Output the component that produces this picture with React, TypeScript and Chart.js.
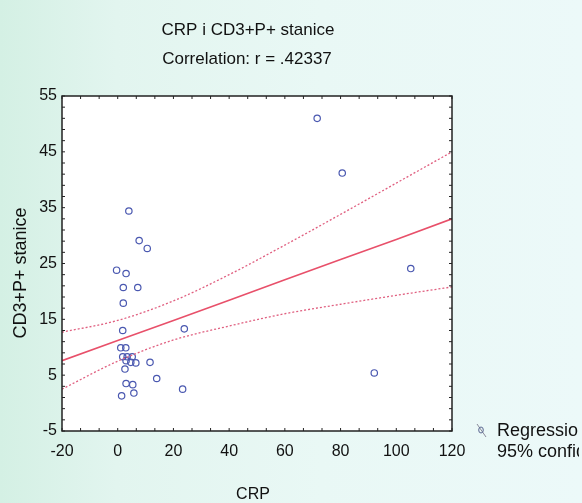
import React, { useEffect, useRef } from "react";
import { Chart, registerables } from "chart.js";

Chart.register(...registerables);

// ---- data ----
const crp = [4.0, 7.7, 10.6, -0.4, 3.0, 2.0, 7.2, 2.0, 1.8, 23.9, 1.1, 2.9, 1.8, 3.4, 5.2, 3.0, 4.7, 6.5, 2.6, 11.6, 14.0, 3.0, 5.4, 5.8, 1.4, 23.3, 71.6, 80.6, 105.2, 92.1];
const cd3 = [34.4, 29.1, 27.7, 23.8, 23.2, 20.7, 20.7, 17.9, 13.0, 13.3, 9.9, 9.9, 8.3, 8.3, 8.3, 7.6, 7.3, 7.2, 6.1, 7.3, 4.4, 3.5, 3.3, 1.8, 1.3, 2.5, 51.0, 41.2, 24.1, 5.4];

const fitX = [-20, 0, 20, 40, 60, 80, 100, 120];
const fitY = [7.6, 11.2, 14.8, 18.4, 22.1, 25.7, 29.3, 33.0];
const ciUpper = [12.7, 14.8, 18.3, 23.0, 28.3, 33.8, 39.4, 45.0];
const ciLower = [2.5, 7.5, 11.3, 13.8, 16.0, 17.7, 19.3, 20.8];

const xTicks = [-20, 0, 20, 40, 60, 80, 100, 120];
const yTicks = [-5, 5, 15, 25, 35, 45, 55];

const titleText = "CRP i CD3+P+ stanice";
const subtitleText = "Correlation: r = .42337";
const xTitle = "CRP";
const yTitle = "CD3+P+ stanice";
const legendLabels = ["Regression", "95% confidence"];

const FONT = "'Liberation Sans', Arial, sans-serif";

const decor = {
  id: "decor",
  beforeDraw(chart: any) {
    const { ctx, chartArea: a } = chart;
    ctx.save();
    ctx.fillStyle = "#ffffff";
    ctx.fillRect(a.left, a.top, a.right - a.left, a.bottom - a.top);
    ctx.restore();
  },
  afterDraw(chart: any) {
    const { ctx, chartArea: a } = chart;
    const xs = chart.scales.x;
    const ys = chart.scales.y;
    ctx.save();
    // frame
    ctx.strokeStyle = "#222";
    ctx.lineWidth = 1.5;
    ctx.strokeRect(a.left, a.top, a.right - a.left, a.bottom - a.top);
    // inward minor ticks
    ctx.lineWidth = 1;
    ctx.beginPath();
    for (let i = 0; i <= 21; i++) {
      const v = -20 + (i * 20) / 3;
      const px = xs.getPixelForValue(v);
      ctx.moveTo(px, a.bottom);
      ctx.lineTo(px, a.bottom - 3);
      ctx.moveTo(px, a.top);
      ctx.lineTo(px, a.top + 3);
    }
    for (let i = 0; i <= 30; i++) {
      const v = -5 + i * 2;
      const py = ys.getPixelForValue(v);
      ctx.moveTo(a.left, py);
      ctx.lineTo(a.left + 3, py);
      ctx.moveTo(a.right, py);
      ctx.lineTo(a.right - 3, py);
    }
    ctx.stroke();

    // titles
    ctx.fillStyle = "#111";
    ctx.textAlign = "center";
    ctx.textBaseline = "alphabetic";
    ctx.font = `17px ${FONT}`;
    ctx.fillText(titleText, 248, 35);
    ctx.fillText(subtitleText, 247, 64);
    ctx.font = `16px ${FONT}`;
    ctx.fillText(xTitle, 253, 499);
    ctx.save();
    ctx.translate(26, 273);
    ctx.rotate(-Math.PI / 2);
    ctx.font = `18px ${FONT}`;
    ctx.fillText(yTitle, 0, 0);
    ctx.restore();

    // legend (clipped like the reference window edge)
    ctx.strokeStyle = "#8a8a9a";
    ctx.lineWidth = 1;
    ctx.beginPath();
    ctx.moveTo(477, 424);
    ctx.lineTo(486, 437);
    ctx.stroke();
    ctx.strokeStyle = "#5a6690";
    ctx.beginPath();
    ctx.ellipse(481, 430, 2.3, 3, 0, 0, Math.PI * 2);
    ctx.stroke();
    ctx.save();
    ctx.beginPath();
    ctx.rect(460, 400, 119, 80);
    ctx.clip();
    ctx.fillStyle = "#111";
    ctx.textAlign = "left";
    ctx.font = `18px ${FONT}`;
    ctx.fillText(legendLabels[0], 497, 436);
    ctx.fillText(legendLabels[1], 497, 457);
    ctx.restore();
    ctx.restore();
  },
};

export default function App() {
  const ref = useRef<HTMLCanvasElement>(null);
  useEffect(() => {
    if (!ref.current) return;
    const chart = new Chart(ref.current, {
      type: "scatter",
      data: {
        datasets: [
          {
            type: "line",
            label: "Upper",
            data: fitX.map((x, i) => ({ x, y: ciUpper[i] })),
            borderColor: "#e06080",
            borderWidth: 1.3,
            borderDash: [2, 2],
            pointRadius: 0,
            cubicInterpolationMode: "monotone",
            fill: false,
          },
          {
            type: "line",
            label: "Lower",
            data: fitX.map((x, i) => ({ x, y: ciLower[i] })),
            borderColor: "#e06080",
            borderWidth: 1.3,
            borderDash: [2, 2],
            pointRadius: 0,
            cubicInterpolationMode: "monotone",
            fill: false,
          },
          {
            type: "line",
            label: "Regression",
            data: fitX.map((x, i) => ({ x, y: fitY[i] })),
            borderColor: "#e8506a",
            borderWidth: 1.6,
            pointRadius: 0,
            fill: false,
          },
          {
            label: "Data",
            data: crp.map((x, i) => ({ x, y: cd3[i] })),
            pointStyle: "circle",
            pointRadius: 3.2,
            borderColor: "#4a58b0",
            backgroundColor: "rgba(0,0,0,0)",
            borderWidth: 1.2,
          },
        ],
      },
      options: {
        responsive: false,
        animation: false,
        layout: { padding: { left: 0, top: 96, right: 130, bottom: 0 } },
        plugins: {
          legend: { display: false },
          title: { display: false },
          tooltip: { enabled: false },
        },
        scales: {
          x: {
            type: "linear",
            min: -20,
            max: 120,
            afterFit: (s: any) => {
              s.height = 72;
            },
            afterBuildTicks: (s: any) => {
              s.ticks = xTicks.map((v) => ({ value: v }));
            },
            grid: { display: false, drawTicks: false },
            border: { display: false },
            ticks: {
              padding: 11,
              color: "#111",
              font: { family: FONT, size: 16 },
              maxRotation: 0,
            },
          },
          y: {
            type: "linear",
            min: -5,
            max: 55,
            afterFit: (s: any) => {
              s.width = 62;
            },
            afterBuildTicks: (s: any) => {
              s.ticks = yTicks.map((v) => ({ value: v }));
            },
            grid: { display: false, drawTicks: false },
            border: { display: false },
            ticks: {
              padding: 5,
              color: "#111",
              font: { family: FONT, size: 16 },
            },
          },
        },
      },
      plugins: [decor],
    });
    return () => chart.destroy();
  }, []);

  return (
    <div
      style={{
        position: "fixed",
        left: 0,
        top: 0,
        width: 582,
        height: 503,
        background:
          "linear-gradient(90deg, #d4f0e4 0%, #e2f5ef 20%, #e9f8f5 55%, #ecf9f9 100%)",
      }}
    >
      <canvas ref={ref} width={582} height={503} style={{ width: 582, height: 503, display: "block" }} />
    </div>
  );
}
